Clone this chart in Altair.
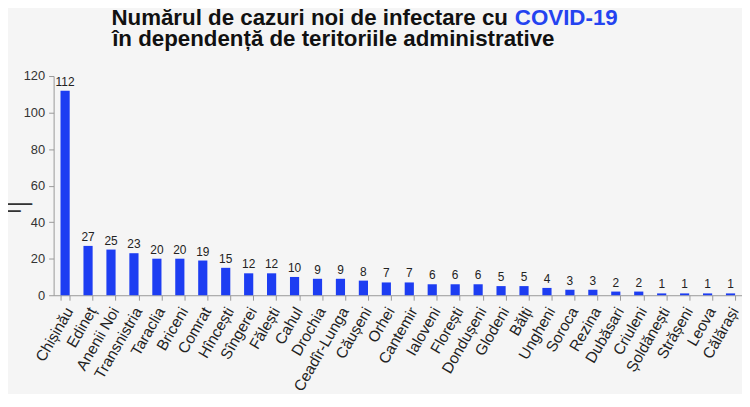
import altair as alt
import pandas as pd

# Cases per administrative territory
districts = ["Chișinău", "Edineț", "Anenii Noi", "Transnistria", "Taraclia", "Briceni",
             "Comrat", "Hîncești", "Sîngerei", "Fălești", "Cahul", "Drochia",
             "Ceadîr-Lunga", "Căușeni", "Orhei", "Cantemir", "Ialoveni", "Florești",
             "Dondușeni", "Glodeni", "Bălți", "Ungheni", "Soroca", "Rezina",
             "Dubăsari", "Criuleni", "Șoldănești", "Strășeni", "Leova", "Călărași"]
cases = [112, 27, 25, 23, 20, 20, 19, 15, 12, 12, 10, 9, 9, 8, 7, 7, 6, 6, 6, 5,
         5, 4, 3, 3, 2, 2, 1, 1, 1, 1]
y_ticks = [0, 20, 40, 60, 80, 100, 120]

title_line1 = "Numărul de cazuri noi de infectare cu"
title_covid = "COVID-19"
title_line2 = "în dependență de teritoriile administrative"

bar_color = "#1d3df2"
font = "Liberation Sans"

df = pd.DataFrame({"district": districts, "cases": cases})

x_enc = alt.X("district:N", sort=districts,
              scale=alt.Scale(paddingInner=0.6, paddingOuter=0.3),
              axis=alt.Axis(title=None, labelAngle=-60, labelFontSize=15.5, labelColor="#222",
                            labelFont=font, tickBand="extent", tickSize=5, tickColor="#999",
                            domainColor="#999", labelPadding=8, labelOffset=4))
y_enc = alt.Y("cases:Q", scale=alt.Scale(domain=[0, 120]),
              axis=alt.Axis(values=y_ticks, grid=False, labelFontSize=13, labelColor="#333",
                            labelFont=font, tickSize=5, tickColor="#999", domainColor="#999",
                            labelPadding=4,
                            title=["—", "–"], titleAngle=0, titleAlign="left",
                            titleBaseline="alphabetic", titleX=-48, titleY=136,
                            titleFontSize=26, titleLineHeight=7, titleFontWeight="normal",
                            titleColor="#333", titleFont=font))

bars = alt.Chart(df).mark_bar(color=bar_color).encode(x=x_enc, y=y_enc)

labels = alt.Chart(df).mark_text(dy=-5, baseline="alphabetic", fontSize=12, color="#222",
                                 font=font).encode(x=x_enc, y=y_enc, text="cases:Q")

# Two-line heading, "COVID-19" in blue right after the black part of line 1
head1 = alt.Chart(pd.DataFrame({"t": [title_line1]})).mark_text(
    align="right", baseline="alphabetic", fontSize=22.5, fontWeight="bold", color="#111", font=font
).encode(text="t:N", x=alt.value(458), y=alt.value(-51))
head_covid = alt.Chart(pd.DataFrame({"t": [title_covid]})).mark_text(
    align="left", baseline="alphabetic", fontSize=22.5, fontWeight="bold", color="#2443f0", font=font
).encode(text="t:N", x=alt.value(465), y=alt.value(-51))
head2 = alt.Chart(pd.DataFrame({"t": [title_line2]})).mark_text(
    align="left", baseline="alphabetic", fontSize=22.5, fontWeight="bold", color="#111", font=font
).encode(text="t:N", x=alt.value(59), y=alt.value(-30))

chart = (
    alt.layer(bars, labels, head1, head_covid, head2)
    .properties(width=694, height=221,
                autosize=alt.AutoSizeParams(type="none"),
                padding={"left": 46, "top": 67, "right": 0, "bottom": 98},
                background="#f5f5f5")
    .configure_view(stroke=None)
)

chart.save("out.html", embed_options={"renderer": "svg", "actions": False})
